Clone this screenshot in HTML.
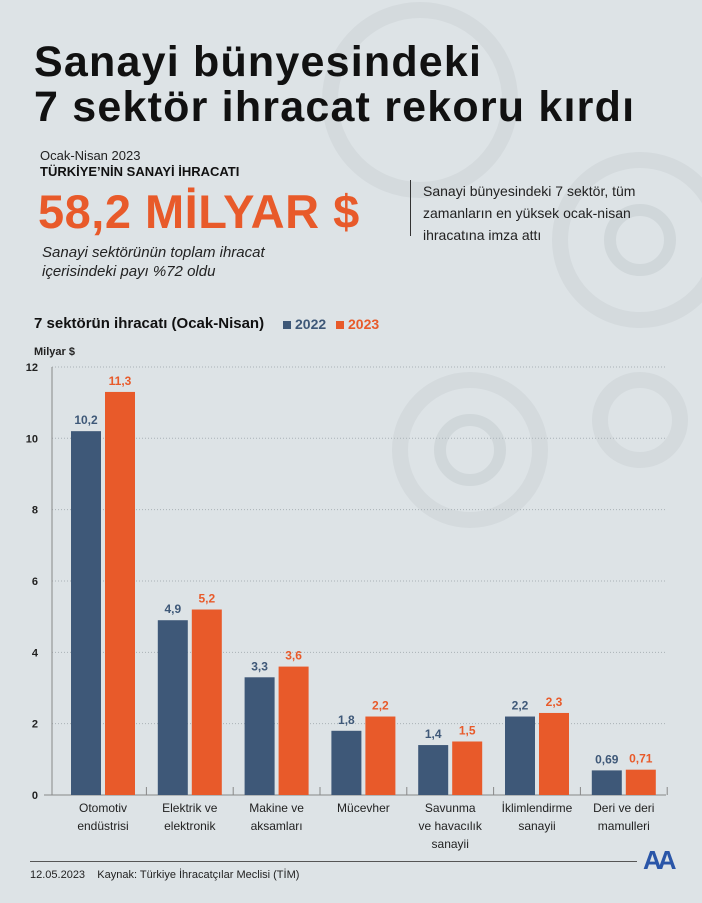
<!DOCTYPE html>
<html><head><meta charset="utf-8"><style>
body{margin:0;width:702px;height:903px;background:#dde3e6;font-family:"Liberation Sans",sans-serif;position:relative;overflow:hidden}
.a{position:absolute;white-space:nowrap}
</style></head><body>
<svg class="a" style="left:0;top:0" width="702" height="903">
<g fill="none" stroke="#d4dadd" stroke-width="16">
<circle cx="420" cy="100" r="90"/><circle cx="640" cy="240" r="80"/><circle cx="470" cy="450" r="70"/><circle cx="640" cy="420" r="40"/>
</g>
<g fill="none" stroke="#d0d7da" stroke-width="12"><circle cx="470" cy="450" r="30"/><circle cx="640" cy="240" r="30"/></g>
</svg>
<div class="a" style="left:34px;top:40px;font-size:43px;font-weight:bold;line-height:45px;letter-spacing:1.2px;color:#111">Sanayi bünyesindeki<br>7 sektör ihracat rekoru kırdı</div>
<div class="a" style="left:40px;top:148px;font-size:13px;color:#222">Ocak-Nisan 2023</div>
<div class="a" style="left:40px;top:164px;font-size:13px;font-weight:bold;color:#111">TÜRKİYE’NİN SANAYİ İHRACATI</div>
<div class="a" style="left:38px;top:184px;font-size:47px;font-weight:bold;letter-spacing:0.5px;color:#e85a2a">58,2 MİLYAR $</div>
<div class="a" style="left:42px;top:243px;font-size:15px;font-style:italic;line-height:19px;color:#222">Sanayi sektörünün toplam ihracat<br>içerisindeki payı %72 oldu</div>
<div class="a" style="left:410px;top:180px;width:1px;height:56px;background:#333"></div>
<div class="a" style="left:423px;top:180px;font-size:14px;line-height:22px;color:#222">Sanayi bünyesindeki 7 sektör, tüm<br>zamanların en yüksek ocak-nisan<br>ihracatına imza attı</div>
<div class="a" style="left:34px;top:315px;font-size:15px;font-weight:bold;color:#111">7 sektörün ihracatı (Ocak-Nisan)</div>
<div class="a" style="left:283px;top:316px;font-size:14px;font-weight:bold;color:#3e5878"><span style="display:inline-block;width:8px;height:8px;background:#3e5878;margin-right:4px"></span>2022</div>
<div class="a" style="left:336px;top:316px;font-size:14px;font-weight:bold;color:#e85a2a"><span style="display:inline-block;width:8px;height:8px;background:#e85a2a;margin-right:4px"></span>2023</div>
<div class="a" style="left:34px;top:346px;font-size:11px;font-weight:bold;color:#222">Milyar $</div>
<svg class="a" id="chart" style="left:0;top:0" width="702" height="903"></svg>
<div class="a" style="left:30px;top:861px;width:607px;height:1px;background:#555"></div>
<div class="a" style="left:30px;top:869px;font-size:11px;color:#222">12.05.2023 &nbsp;&nbsp; Kaynak: Türkiye İhracatçılar Meclisi (TİM)</div>
<div class="a" style="left:643px;top:845px;font-size:26px;font-weight:bold;color:#2a56a8;letter-spacing:-4px">AA</div>
<script>
const categories=["Otomotiv\nendüstrisi","Elektrik ve\nelektronik","Makine ve\naksamları","Mücevher","Savunma\nve havacılık\nsanayii","İklimlendirme\nsanayii","Deri ve deri\nmamulleri"];
const v2022=[10.2,4.9,3.3,1.8,1.4,2.2,0.69];
const v2023=[11.3,5.2,3.6,2.2,1.5,2.3,0.71];
const lab2022=["10,2","4,9","3,3","1,8","1,4","2,2","0,69"];
const lab2023=["11,3","5,2","3,6","2,2","1,5","2,3","0,71"];
const ticks=[0,2,4,6,8,10,12];
const svg=document.getElementById('chart');const NS='http://www.w3.org/2000/svg';
const y=v=>795-v*35.67, cx=i=>103+86.8*i;
function mk(t,a,txt){const e=document.createElementNS(NS,t);for(const k in a)e.setAttribute(k,a[k]);if(txt!=null)e.textContent=txt;svg.appendChild(e);return e;}
ticks.forEach(t=>{
 if(t>0){const g=mk('line',{x1:52,x2:666,y1:y(t),y2:y(t),stroke:'#a9b2b7','stroke-dasharray':'1 2'});}
 const l=mk('text',{x:38,y:y(t)+4,'text-anchor':'end','font-size':11,'font-weight':'bold',fill:'#222'},String(t));
 
});
const ax=mk('line',{x1:44,x2:666,y1:795,y2:795,stroke:'#888'});
const ay=mk('line',{x1:52,x2:52,y1:367,y2:795,stroke:'#888'});
categories.forEach((c,i)=>{
 const c0=cx(i);
 const tk=mk('line',{x1:c0+43.4,x2:c0+43.4,y1:787,y2:795,stroke:'#888'});
 const b1=mk('rect',{x:c0-32,y:y(v2022[i]),width:30,height:795-y(v2022[i]),fill:'#3e5878'});
 
 const b2=mk('rect',{x:c0+2,y:y(v2023[i]),width:30,height:795-y(v2023[i]),fill:'#e85a2a'});
 
 const t1=mk('text',{x:c0-17,y:y(v2022[i])-7,'text-anchor':'middle','font-size':12,'font-weight':'bold',fill:'#3e5878'},lab2022[i]);
 
 const t2=mk('text',{x:c0+17,y:y(v2023[i])-7,'text-anchor':'middle','font-size':12,'font-weight':'bold',fill:'#e85a2a'},lab2023[i]);
 
 c.split('\n').forEach((ln,j)=>{const t=mk('text',{x:c0,y:812+j*18,'text-anchor':'middle','font-size':12,fill:'#222'},ln);
  });
});
</script>
</body></html>
